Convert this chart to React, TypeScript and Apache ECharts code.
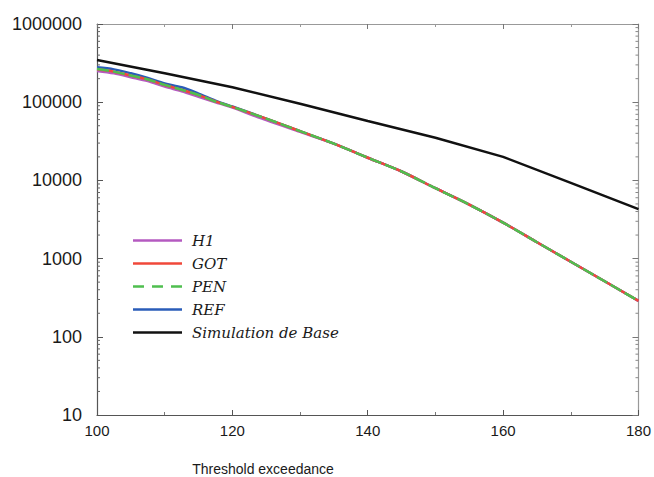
import React, { useEffect, useRef } from "react";
import * as echarts from "echarts";

const thresholds = [100, 102.5, 105, 107.5, 110, 112.5, 115, 117.5, 120, 125, 130, 135, 140, 145, 150, 155, 160, 165, 170, 175, 180];
const h1Values = [251000, 234000, 209000, 186000, 158000, 138000, 117500, 100000, 85100, 58900, 41700, 29500, 19500, 13000, 7940, 4900, 2880, 1620, 912, 513, 288];
const gotValues = [263000, 245500, 218800, 195000, 166000, 144500, 123000, 102300, 87100, 61700, 42700, 29500, 19500, 13000, 7940, 4900, 2880, 1620, 912, 513, 288];
const penValues = [265000, 246000, 219000, 195500, 166500, 144000, 123500, 102000, 87100, 61700, 42700, 29500, 19500, 13000, 7940, 4900, 2880, 1620, 912, 513, 288];
const refValues = [279000, 263000, 234000, 204000, 174000, 155000, 129000, 105000, 88000, 61700, 42700, 29500, 19500, 13000, 7940, 4900, 2880, 1620, 912, 513, 288];

const baseThresholds = [100, 110, 120, 130, 140, 150, 160, 170, 180];
const baseValues = [346700, 234000, 155000, 95500, 57500, 35100, 20000, 9300, 4300];

const seriesNames = ["H1", "GOT", "PEN", "REF", "Simulation de Base"];
const xTitle = "Threshold exceedance";

const decades = [10, 100, 1000, 10000, 100000];
const minorMultipliers = [2, 3, 4, 5, 6, 7, 8, 9];

const SOLID_ICON = "path://M0,0h49v2.5h-49z";
const DASHED_ICON = "path://M0,0h11v2.5h-11zM19,0h11v2.5h-11zM38,0h11v2.5h-11z";

const pairs = (xs: number[], ys: number[]) => xs.map((x, i) => [x, ys[i]]);

export default function App() {
  const ref = useRef<HTMLDivElement>(null);
  useEffect(() => {
    if (!ref.current) return;
    const chart = echarts.init(ref.current, null, { renderer: "svg" });
    const minorTicks: number[][] = [];
    decades.forEach((d) => minorMultipliers.forEach((m) => minorTicks.push([100, d * m])));

    const axisLineDark = { show: true, lineStyle: { color: "#555", width: 1.2 } };
    const axisLineLight = { show: true, lineStyle: { color: "#999", width: 1.2 } };

    chart.setOption({
      animation: false,
      backgroundColor: "#ffffff",
      grid: { left: 97, top: 24, width: 543, height: 391, containLabel: false },
      legend: {
        data: seriesNames.map((n) => ({ name: n, icon: n === "PEN" ? DASHED_ICON : SOLID_ICON })),
        orient: "vertical",
        left: 133,
        top: 233,
        padding: 0,
        itemWidth: 49,
        itemHeight: 14,
        itemGap: 8,
        textStyle: {
          fontFamily: "DejaVu Serif",
          fontStyle: "italic",
          fontSize: 15,
          color: "#1a1a1a",
          padding: [0, 0, 0, 5],
        },
      },
      xAxis: [
        {
          type: "value",
          min: 100,
          max: 180,
          interval: 20,
          position: "bottom",
          axisLine: axisLineDark,
          axisTick: { show: true, inside: true, length: 5, lineStyle: { color: "#555" } },
          minorTick: { show: true, splitNumber: 2, length: 3, lineStyle: { color: "#777" } },
          splitLine: { show: false },
          axisLabel: {
            margin: 8,
            fontFamily: "Liberation Sans",
            fontSize: 15,
            color: "#1a1a1a",
          },
        },
        {
          type: "value",
          min: 100,
          max: 180,
          interval: 20,
          position: "top",
          axisLine: axisLineLight,
          axisTick: { show: true, inside: true, length: 5, lineStyle: { color: "#777" } },
          minorTick: { show: true, splitNumber: 2, length: 3, lineStyle: { color: "#999" } },
          splitLine: { show: false },
          axisLabel: { show: false },
        },
      ],
      yAxis: [
        {
          type: "log",
          logBase: 10,
          min: 10,
          max: 1000000,
          position: "left",
          axisLine: axisLineDark,
          axisTick: { show: true, inside: true, length: 6, lineStyle: { color: "#555" } },
          splitLine: { show: false },
          axisLabel: {
            margin: 15,
            fontFamily: "Liberation Sans",
            fontSize: 18,
            color: "#1a1a1a",
            formatter: (v: number) => String(Math.round(v)),
          },
        },
        {
          type: "log",
          logBase: 10,
          min: 10,
          max: 1000000,
          position: "right",
          axisLine: axisLineLight,
          axisTick: { show: true, inside: true, length: 6, lineStyle: { color: "#777" } },
          splitLine: { show: false },
          axisLabel: { show: false },
        },
      ],
      graphic: [
        {
          type: "text",
          x: 263,
          y: 469,
          style: {
            text: xTitle,
            fontFamily: "Liberation Sans",
            fontSize: 14,
            fill: "#1a1a1a",
            textAlign: "center",
            textVerticalAlign: "middle",
          },
        },
      ],
      series: [
        {
          type: "custom",
          name: "minorTicks",
          silent: true,
          data: minorTicks,
          renderItem: (params: any, api: any) => {
            const v = api.value(1);
            const l = api.coord([100, v]);
            const r = api.coord([180, v]);
            return {
              type: "group",
              children: [
                { type: "line", shape: { x1: l[0], y1: l[1], x2: l[0] + 3, y2: l[1] }, style: { stroke: "#666", lineWidth: 1 } },
                { type: "line", shape: { x1: r[0], y1: r[1], x2: r[0] - 3, y2: r[1] }, style: { stroke: "#888", lineWidth: 1 } },
              ],
            };
          },
        },
        {
          name: "REF",
          type: "line",
          data: pairs(thresholds, refValues),
          symbol: "none",
          smooth: 0.3,
          lineStyle: { color: "#2a5cb8", width: 2.5 },
          itemStyle: { color: "#2a5cb8" },
          z: 2,
        },
        {
          name: "H1",
          type: "line",
          data: pairs(thresholds, h1Values),
          symbol: "none",
          smooth: 0.3,
          lineStyle: { color: "#b45ac0", width: 2.5 },
          itemStyle: { color: "#b45ac0" },
          z: 3,
        },
        {
          name: "GOT",
          type: "line",
          data: pairs(thresholds, gotValues),
          symbol: "none",
          smooth: 0.3,
          lineStyle: { color: "#f0483a", width: 2.5 },
          itemStyle: { color: "#f0483a" },
          z: 4,
        },
        {
          name: "PEN",
          type: "line",
          data: pairs(thresholds, penValues),
          symbol: "none",
          smooth: 0.3,
          lineStyle: { color: "#4fbf4f", width: 2.5, type: [12, 4] },
          itemStyle: { color: "#4fbf4f" },
          z: 5,
        },
        {
          name: "Simulation de Base",
          type: "line",
          data: pairs(baseThresholds, baseValues),
          symbol: "none",
          lineStyle: { color: "#111111", width: 2.5 },
          itemStyle: { color: "#111111" },
          z: 6,
        },
      ],
    });
    return () => chart.dispose();
  }, []);
  return (
    <div
      ref={ref}
      style={{ position: "fixed", left: 0, top: 0, width: 654, height: 477, background: "#fff" }}
    />
  );
}
